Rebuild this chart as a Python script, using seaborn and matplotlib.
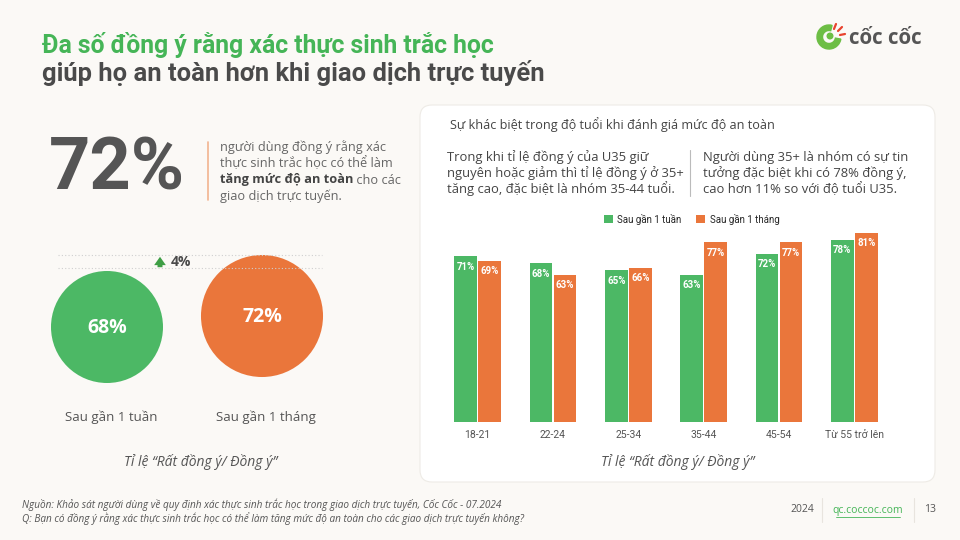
import pandas as pd
import matplotlib.pyplot as plt
from matplotlib.patches import FancyBboxPatch, Circle, Wedge
import seaborn as sns

# data
ages = ["18-21", "22-24", "25-34", "35-44", "45-54", "Từ 55 trở lên"]
week = [71, 68, 65, 63, 72, 78]
month = [69, 63, 66, 77, 77, 81]
periods = ["Sau gần 1 tuần", "Sau gần 1 tháng"]
overall = [68, 72]
headline = 72

GREEN = "#4CB865"
ORANGE = "#EA763B"
DARK = "#4A4A4A"
GRAY = "#666666"
BG = "#FBF9F6"

sns.set_theme(style="white")
plt.rcParams['font.family'] = ['Open Sans', 'DejaVu Sans']

fig = plt.figure(figsize=(9.6, 5.4), dpi=100)
fig.patch.set_facecolor(BG)

# full-figure axes in pixel coordinates for texts and decorations
bg = fig.add_axes([0, 0, 1, 1])
bg.set_xlim(0, 960)
bg.set_ylim(540, 0)
bg.axis('off')
bg.set_facecolor(BG)


def T(x, y, s, **kw):
    kw.setdefault('va', 'center')
    kw.setdefault('ha', 'left')
    return bg.text(x, y, s, **kw)


# title
T(42, 45, "Đa số đồng ý rằng xác thực sinh trắc học", fontsize=17.8, fontweight='bold',
  color="#45B557", family=['Roboto', 'DejaVu Sans'])
T(42, 73, "giúp họ an toàn hơn khi giao dịch trực tuyến", fontsize=18.4, fontweight='bold',
  color=DARK, family=['Roboto', 'DejaVu Sans'])

# logo
bg.add_patch(Wedge((829, 37), 12, 10, 285, width=5.5, color="#6DBE45"))
bg.add_patch(Circle((830, 36), 2.8, color="#6DBE45"))
for (x0, y0, x1, y1) in [(834, 29, 836, 24), (838, 31, 842, 27), (840, 35, 845, 34)]:
    bg.plot([x0, x1], [y0, y1], color="#E8432E", lw=1.6, solid_capstyle='round')
T(849, 39, "cốc cốc", fontsize=14.8, fontweight='bold', color="#555555")

# headline number
T(49, 170, f"{headline}%", fontsize=52, fontweight='bold', color="#555555",
  family=['Roboto', 'DejaVu Sans'])
bg.plot([208, 208], [142, 200], color="#F2B48F", lw=1.2)
T(220, 147, "người dùng đồng ý rằng xác", fontsize=9.2, color=GRAY)
T(220, 163, "thực sinh trắc học có thể làm", fontsize=9.2, color=GRAY)
b = T(220, 180, "tăng mức độ an toàn", fontsize=9.2, color="#444444", fontweight='bold')
bg.annotate(" cho các", xy=(1, 0.5), xycoords=b, va='center', ha='left', fontsize=9.2, color=GRAY)
T(220, 196, "giao dịch trực tuyến.", fontsize=9.2, color=GRAY)

# circles for overall agreement
bg.plot([58, 322], [255, 255], color="#CFCFCF", lw=0.8, ls=(0, (1, 2)))
bg.plot([58, 322], [268, 268], color="#CFCFCF", lw=0.8, ls=(0, (1, 2)))
centers_x = [107, 262]
centers_y = [327, 316]
for i, (lab, v) in enumerate(zip(periods, overall)):
    r = 56 * (v / overall[0]) ** 1.5
    bg.add_patch(Circle((centers_x[i], centers_y[i]), r, color=[GREEN, ORANGE][i], lw=0))
    T(centers_x[i], centers_y[i] + 1, f"{v}%", ha='center', fontsize=14, fontweight='bold', color='white')
    T(centers_x[i] + 4, 417, lab, ha='center', fontsize=9.5, color="#555555")
bg.annotate("", xy=(160, 254), xytext=(160, 270),
            arrowprops=dict(arrowstyle="simple,head_width=0.7,head_length=0.5,tail_width=0.3",
                            color="#3E9E45", lw=0))
T(171, 262, f"{overall[1] - overall[0]}%", fontsize=10, fontweight='bold', color=DARK)
T(201, 462, "Tỉ lệ “Rất đồng ý/ Đồng ý”", ha='center', fontsize=10, style='italic', color="#555555")

# right panel
bg.add_patch(FancyBboxPatch((420, 105), 515, 377, boxstyle="round,pad=0,rounding_size=12",
                            facecolor='white', edgecolor="#EEEBE6", lw=0.8))
T(450, 125, "Sự khác biệt trong độ tuổi khi đánh giá mức độ an toàn", fontsize=9.1, color="#444444")
left_lines = ["Trong khi tỉ lệ đồng ý của U35 giữ",
              "nguyên hoặc giảm thì tỉ lệ đồng ý ở 35+",
              "tăng cao, đặc biệt là nhóm 35-44 tuổi."]
right_lines = ["Người dùng 35+ là nhóm có sự tin",
               "tưởng đặc biệt khi có 78% đồng ý,",
               "cao hơn 11% so với độ tuổi U35."]
for k, (l, r_) in enumerate(zip(left_lines, right_lines)):
    T(447, 157 + 16 * k, l, fontsize=9.4, color="#444444")
    T(703, 157 + 16 * k, r_, fontsize=9.4, color="#444444")
bg.plot([690, 690], [150, 196], color="#BBBBBB", lw=0.8)
T(678, 462, "Tỉ lệ “Rất đồng ý/ Đồng ý”", ha='center', fontsize=10, style='italic', color="#555555")

# footer
T(22, 505, "Nguồn: Khảo sát người dùng về quy định xác thực sinh trắc học trong giao dịch trực tuyến, Cốc Cốc - 07.2024",
  fontsize=7.2, style='italic', color="#555555")
T(22, 519, "Q: Bạn có đồng ý rằng xác thực sinh trắc học có thể làm tăng mức độ an toàn cho các giao dịch trực tuyến không?",
  fontsize=7.2, style='italic', color="#555555")
T(802, 510, "2024", ha='center', fontsize=7.5, color="#555555")
T(868, 510, "qc.coccoc.com", ha='center', fontsize=7.5, color="#45B557")
bg.plot([836, 900], [517, 517], color="#45B557", lw=0.6)
T(930, 510, "13", ha='center', fontsize=7.5, color="#555555")
bg.plot([822, 822], [498, 522], color="#E8E4DE", lw=0.8)
bg.plot([914, 914], [498, 522], color="#E8E4DE", lw=0.8)

# bar chart
df = pd.DataFrame({
    "age": ages * 2,
    "value": week + month,
    "period": [periods[0]] * len(ages) + [periods[1]] * len(ages),
})
ax = fig.add_axes([440 / 960, 1 - 422 / 540, 452 / 960, 217 / 540])
ax.patch.set_alpha(0)
sns.barplot(data=df, x="age", y="value", hue="period", palette=[GREEN, ORANGE],
            width=0.64, gap=0.06, ax=ax, saturation=1, edgecolor='none')
ax.set_ylim(0, 93)
ax.set_xlim(-0.5, len(ages) - 0.5)
ax.set_xlabel("")
ax.set_ylabel("")
ax.set_yticks([])
ax.tick_params(axis='x', length=0, pad=6, labelsize=7.5, labelcolor="#555555")
for lbl in ax.get_xticklabels():
    lbl.set_family(['Roboto', 'DejaVu Sans'])
sns.despine(ax=ax, left=True, bottom=True)
for cont, vals in zip(ax.containers, [week, month]):
    ax.bar_label(cont, labels=[f"{v}%" for v in vals], padding=-11, color='white',
                 fontsize=7, fontweight='bold', family=['Roboto', 'DejaVu Sans'])
ax.legend(loc='center', bbox_to_anchor=(0.557, 0.935), ncol=2, frameon=False,
          handlelength=0.9, handleheight=0.9, handletextpad=0.5, columnspacing=1.5,
          prop={'family': ['Roboto', 'DejaVu Sans'], 'size': 7})

fig.savefig("out.png", dpi=100, facecolor=BG)
